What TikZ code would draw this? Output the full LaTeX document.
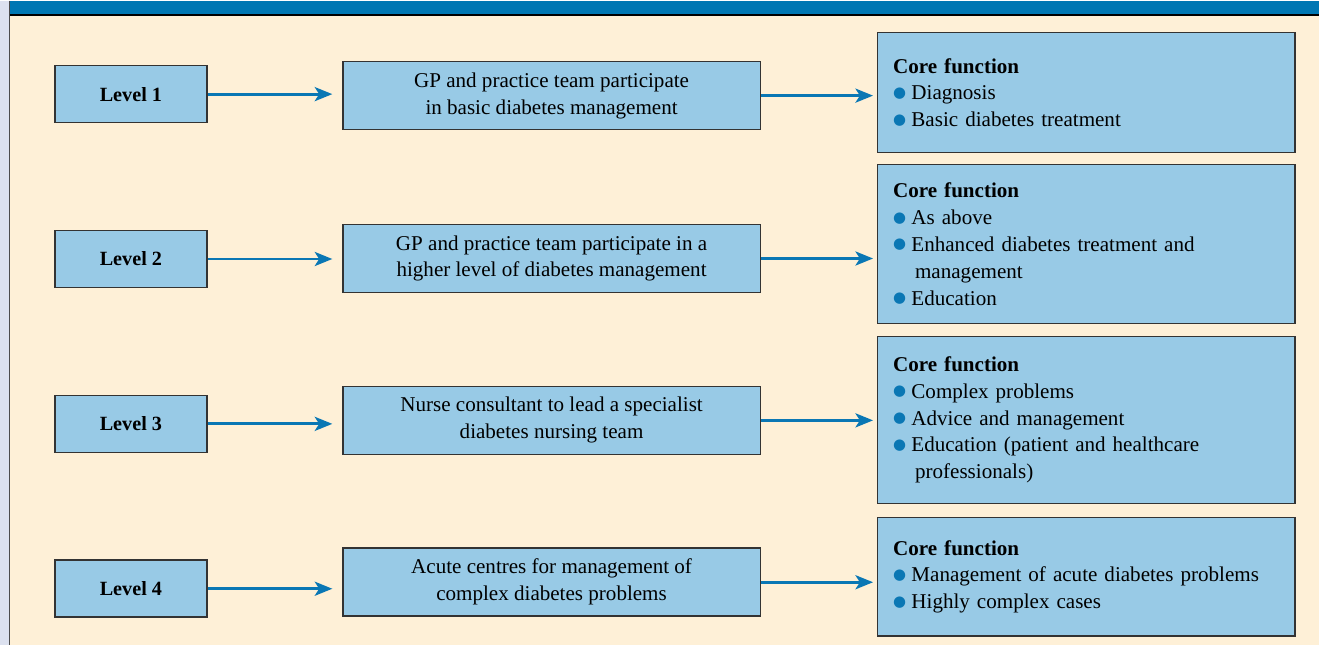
\documentclass[tikz,border=0pt]{standalone}
\usepackage{fontspec}
\setmainfont{Liberation Serif}
\newfontfamily\symfont{DejaVu Sans}
\usetikzlibrary{arrows.meta, positioning}
\definecolor{boxblue}{HTML}{98CAE6}
\definecolor{linkblue}{HTML}{0A77B4}
\definecolor{cream}{HTML}{FEF0D7}
\definecolor{strip}{HTML}{DCE1EF}
\definecolor{barblue}{HTML}{0077B3}
\newcommand{\bul}{{\color{linkblue}\symfont\fontsize{8.5}{8.5}\selectfont\raisebox{0.3ex}{●}}\hspace{3pt}}
\newcommand{\cont}{\hspace*{12.5pt}}
\tikzstyle{levelbox} = [
	rectangle,
	minimum width=3.04cm,
	minimum height=1.14cm,
	text centered,
	draw=black!80,
	line width=0.9pt,
	fill=boxblue,
	font=\fontsize{11.5}{15.3}\selectfont\bfseries
]
\tikzstyle{teambox} = [
	rectangle,
	minimum width=8.36cm,
	minimum height=1.36cm,
	align=center,
	draw=black!80,
	line width=0.9pt,
	fill=boxblue,
	font=\fontsize{12}{15.3}\selectfont
]
\tikzstyle{corebox} = [
	rectangle,
	text width=8.36cm-18pt,
	inner xsep=9pt,
	align=left,
	draw=black!80,
	line width=0.9pt,
	fill=boxblue,
	font=\fontsize{12}{15.3}\selectfont
]
\tikzstyle{arrow} = [line width=1.6pt, draw=linkblue, ->, >={Stealth[length=10pt,width=8pt,inset=2.5pt]}]

\begin{document}
\begin{tikzpicture}[x=0.02cm, y=-0.02cm]
		% frame
		\fill[strip] (0,0) rectangle (10,645);
		\fill[barblue] (10,0) rectangle (1320,14);
		\fill[cream] (10,15) rectangle (1320,645);
		\draw[black!70, line width=0.8pt] (9.5,0) -- (9.5,645);
		\draw[black, line width=1.2pt] (10,14) -- (1320,14);
		\useasboundingbox (0,0) rectangle (1320,645);

		\node (lvl1) [levelbox] at (131,93.5) {Level 1};
		\node (lvl2) [levelbox] at (131,258.5) {Level 2};
		\node (lvl3) [levelbox] at (131,423.5) {Level 3};
		\node (lvl4) [levelbox] at (131,588.5) {Level 4};

		\node (team1) [teambox] at (552,95) {GP and practice team participate\\in basic diabetes management};
		\node (team2) [teambox] at (552,258) {GP and practice team participate in a\\higher level of diabetes management};
		\node (team3) [teambox] at (552,420) {Nurse consultant to lead a specialist\\diabetes nursing team};
		\node (team4) [teambox] at (552,582) {Acute centres for management of\\complex diabetes problems};

		\node (core1) [corebox, minimum height=2.4cm] at (1087,92) {\textbf{Core function}\\\bul Diagnosis\\\bul Basic diabetes treatment};
		\node (core2) [corebox, minimum height=3.18cm] at (1087,243.5) {\textbf{Core function}\\\bul As above\\\bul Enhanced diabetes treatment and\\\cont management\\\bul Education};
		\node (core3) [corebox, minimum height=3.34cm] at (1087,419.5) {\textbf{Core function}\\\bul Complex problems\\\bul Advice and management\\\bul Education (patient and healthcare\\\cont professionals)};
		\node (core4) [corebox, minimum height=2.38cm] at (1087,576.5) {\textbf{Core function}\\\bul Management of acute diabetes problems\\\bul Highly complex cases};

		\foreach \i in {1,...,4} {
			\draw [arrow, shorten >=5.5pt] (lvl\i.east) -- (lvl\i.east -| team\i.west);
			\draw [arrow, shorten >=2pt] (team\i.east) -- (team\i.east -| core\i.west);
		}
	\end{tikzpicture}
\end{document}
